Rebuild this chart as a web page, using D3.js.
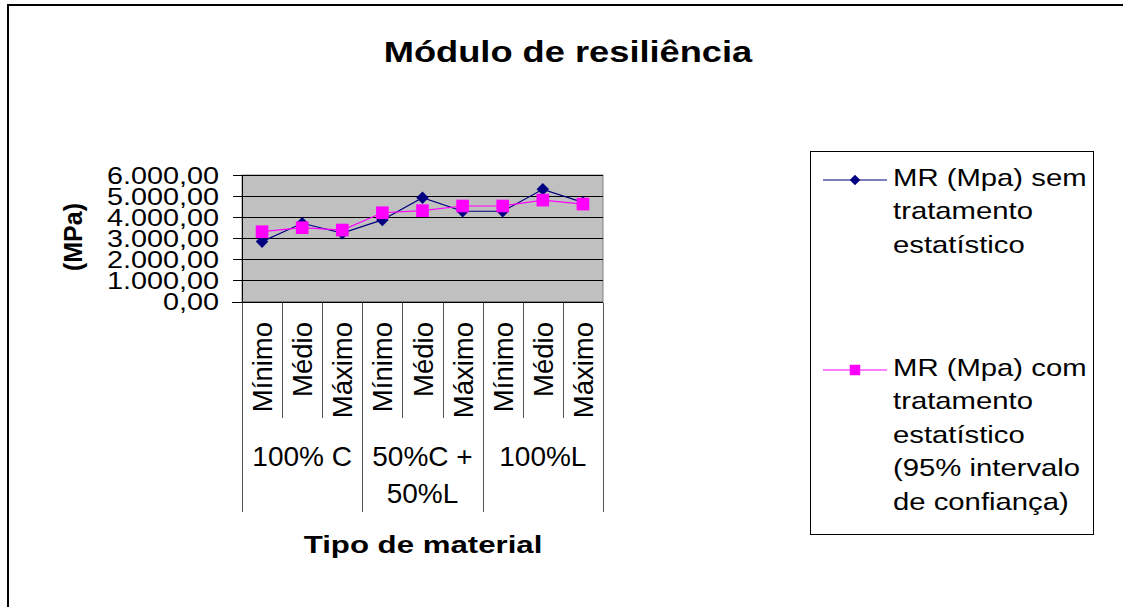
<!DOCTYPE html>
<meta charset="utf-8">
<style>
body { margin: 0; background: #fff; }
text { font-family: "Liberation Sans", Arial, sans-serif; fill: #000; }
.grid line { stroke: #000; stroke-width: 1px; }
.sep line { stroke: #555; stroke-width: 1px; }
</style>
<body>
<svg width="1123" height="607"></svg>
<script src="https://cdn.jsdelivr.net/npm/d3@7"></script>
<script>
// data
var levels = ["Mínimo", "Médio", "Máximo"];
var groupLines = [["100% C"], ["50%C +", "50%L"], ["100%L"]];
var semTratamento = [2840, 3710, 3240, 3870, 4920, 4280, 4280, 5320, 4700];
var comTratamento = [3310, 3500, 3390, 4210, 4310, 4530, 4530, 4810, 4620];
var yTicks = [0, 1000, 2000, 3000, 4000, 5000, 6000];
var legendSem = ["MR (Mpa) sem", "tratamento", "estatístico"];
var legendCom = ["MR (Mpa) com", "tratamento", "estatístico", "(95% intervalo", "de confiança)"];

var svg = d3.select("svg");

// outer border (only top and left visible)
svg.append("path")
    .attr("d", "M8,1000 L8,5 L1130,5")
    .attr("fill", "none")
    .attr("stroke", "#000")
    .attr("stroke-width", 2);

var cats = d3.range(9);
var x = d3.scaleBand().domain(cats).range([242, 603]);
var y = d3.scaleLinear().domain([0, 6000]).range([301.5, 175]);

var loc = d3.formatLocale({decimal: ",", thousands: ".", grouping: [3], currency: ["", ""]});
var fmt = loc.format(",.2f");

// horizontal text that is a bit wider than normal, like the original
function wideText(parent, px, py, sx, size, weight, anchor, str) {
  return parent.append("text")
      .attr("transform", "translate(" + px + "," + py + ") scale(" + sx + ",1)")
      .attr("text-anchor", anchor)
      .style("font-size", size + "px")
      .style("font-weight", weight)
      .text(str);
}

// title
wideText(svg, 568, 62, 1.25, 29, "bold", "middle", "Módulo de resiliência");

// plot area
svg.append("rect")
    .attr("x", 242).attr("y", 175)
    .attr("width", 361).attr("height", 126.5)
    .attr("fill", "#c0c0c0")
    .attr("stroke", "#808080");

svg.append("g").attr("class", "grid")
  .selectAll("line")
  .data(yTicks.slice(1))
  .enter().append("line")
    .attr("x1", 242).attr("x2", 603)
    .attr("y1", function(d) { return Math.round(y(d)) + 0.5; })
    .attr("y2", function(d) { return Math.round(y(d)) + 0.5; });

// y axis
var yAxis = svg.append("g");
yAxis.append("line")
    .attr("x1", 242.5).attr("x2", 242.5)
    .attr("y1", 175).attr("y2", 302)
    .attr("stroke", "#000");
yAxis.selectAll("line.tick")
  .data(yTicks)
  .enter().append("line")
    .attr("class", "tick")
    .attr("x1", 233).attr("x2", 242)
    .attr("y1", function(d) { return Math.round(y(d)) + 0.5; })
    .attr("y2", function(d) { return Math.round(y(d)) + 0.5; })
    .attr("stroke", "#000");
yTicks.forEach(function(t) {
  wideText(svg, 219, y(t) + 8.5, 1.2, 24, "normal", "end", fmt(t));
});

svg.append("text")
    .attr("transform", "translate(82,237) rotate(-90)")
    .attr("text-anchor", "middle")
    .style("font-size", "25px")
    .style("font-weight", "bold")
    .text("(MPa)");

// category axis
var xAxisY = Math.round(y(0)) + 0.5;
svg.append("line")
    .attr("x1", 232).attr("x2", 603)
    .attr("y1", xAxisY).attr("y2", xAxisY)
    .attr("stroke", "#000");

var bounds = d3.range(10);
svg.append("g").attr("class", "sep")
  .selectAll("line")
  .data(bounds)
  .enter().append("line")
    .attr("x1", function(i) { return Math.round(i < 9 ? x(i) : x(8) + x.bandwidth()) + 0.5; })
    .attr("x2", function(i) { return Math.round(i < 9 ? x(i) : x(8) + x.bandwidth()) + 0.5; })
    .attr("y1", xAxisY)
    .attr("y2", function(i) { return i % 3 === 0 ? 512 : 418; });

svg.append("g")
  .selectAll("text")
  .data(cats)
  .enter().append("text")
    .attr("transform", function(i) { return "translate(" + (x(i) + x.bandwidth() / 2 + 10) + ",322) rotate(-90)"; })
    .attr("text-anchor", "end")
    .style("font-size", "27.5px")
    .text(function(i) { return levels[i % 3]; });

groupLines.forEach(function(lines, g) {
  var cx = (x(g * 3) + x(g * 3 + 2) + x.bandwidth()) / 2;
  lines.forEach(function(s, k) {
    svg.append("text")
        .attr("x", cx)
        .attr("y", 466 + k * 37)
        .attr("text-anchor", "middle")
        .style("font-size", "28px")
        .text(s);
  });
});

wideText(svg, 423, 553, 1.3, 24, "bold", "middle", "Tipo de material");

// series
var line = d3.line()
    .x(function(d, i) { return x(i) + x.bandwidth() / 2; })
    .y(function(d) { return y(d); });

var diamond = d3.symbol().type(d3.symbolDiamond2).size(100);
var square = d3.symbol().type(d3.symbolSquare).size(160);

svg.append("path")
    .datum(semTratamento)
    .attr("d", line)
    .attr("fill", "none")
    .attr("stroke", "#000080")
    .attr("stroke-width", 1.2);
svg.append("g")
  .selectAll("path")
  .data(semTratamento)
  .enter().append("path")
    .attr("d", diamond)
    .attr("transform", function(d, i) { return "translate(" + (x(i) + x.bandwidth() / 2) + "," + y(d) + ")"; })
    .attr("fill", "#000080");

svg.append("path")
    .datum(comTratamento)
    .attr("d", line)
    .attr("fill", "none")
    .attr("stroke", "#ff00ff")
    .attr("stroke-width", 1.2);
svg.append("g")
  .selectAll("path")
  .data(comTratamento)
  .enter().append("path")
    .attr("d", square)
    .attr("transform", function(d, i) { return "translate(" + (x(i) + x.bandwidth() / 2) + "," + y(d) + ")"; })
    .attr("fill", "#ff00ff");

// legend
svg.append("rect")
    .attr("x", 810.5).attr("y", 151.5)
    .attr("width", 283).attr("height", 383)
    .attr("fill", "#fff")
    .attr("stroke", "#000");

function legendEntry(ly, color, sym, lines) {
  svg.append("line")
      .attr("x1", 823).attr("x2", 887)
      .attr("y1", ly).attr("y2", ly)
      .attr("stroke", color)
      .attr("stroke-width", 1.2);
  svg.append("path")
      .attr("d", sym)
      .attr("transform", "translate(855," + ly + ")")
      .attr("fill", color);
  lines.forEach(function(s, k) {
    wideText(svg, 893, ly + 6 + k * 33.4, 1.22, 24, "normal", "start", s);
  });
}
legendEntry(180, "#000080", d3.symbol().type(d3.symbolDiamond2).size(70)(), legendSem);
legendEntry(370, "#ff00ff", d3.symbol().type(d3.symbolSquare).size(110)(), legendCom);
</script>
</body>
